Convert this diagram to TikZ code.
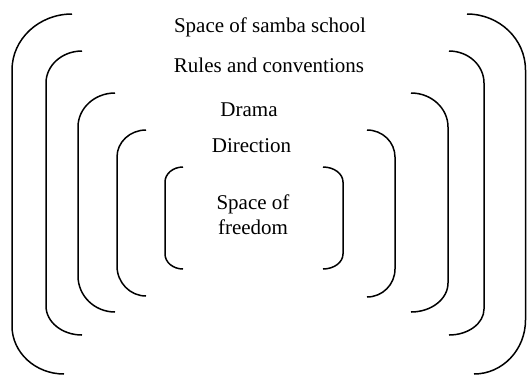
\documentclass[tikz,border=0pt]{standalone}
\usepackage{fontspec}
\setmainfont{Liberation Serif}
\usetikzlibrary{calc}
\newcommand\mybr[7]{%
  \draw[brline] (#1,#2) .. controls ($(#1,#2)!0.552!(#3,#2)$) and ($(#3,#4)!0.552!(#3,#2)$) .. (#3,#4)
    -- (#3,#5) .. controls ($(#3,#5)!0.552!(#3,#7)$) and ($(#6,#7)!0.552!(#3,#7)$) .. (#6,#7);}
\begin{document}
\begin{tikzpicture}[x=1pt,y=-1pt,
  brline/.style={line width=1.5pt, line cap=butt},
  lbl/.style={inner sep=0pt, font=\fontsize{21}{25}\selectfont, anchor=base}]
\useasboundingbox (0,0) rectangle (527,376);
% outer brackets
\mybr{72}{14}{12}{70}{326}{64}{374}
\mybr{467}{14}{525.5}{70}{320}{474}{374}
\mybr{82}{51}{46}{83}{306}{82}{335}
\mybr{449}{51}{484}{83}{309}{449}{335}
\mybr{115}{93}{78}{127}{276}{115}{312}
\mybr{411}{93}{448}{127}{283}{411}{312}
\mybr{146}{130}{117}{157}{266}{146}{296}
\mybr{367}{130}{395}{157}{269}{367}{297}
\mybr{183}{167}{165}{182}{254}{183}{269}
\mybr{323}{167}{343}{182}{254}{323}{269}
% labels
\node[lbl] (school) at (270,32) {Space of samba school};
\node[lbl] (rules) at (269,72) {Rules and conventions};
\node[lbl] (drama) at (249,116) {Drama};
\node[lbl] (direction) at (251.5,152) {Direction};
\node[lbl, anchor=north, align=center] (freedom) at (253,194.7) {Space of\\freedom};
\end{tikzpicture}
\end{document}
